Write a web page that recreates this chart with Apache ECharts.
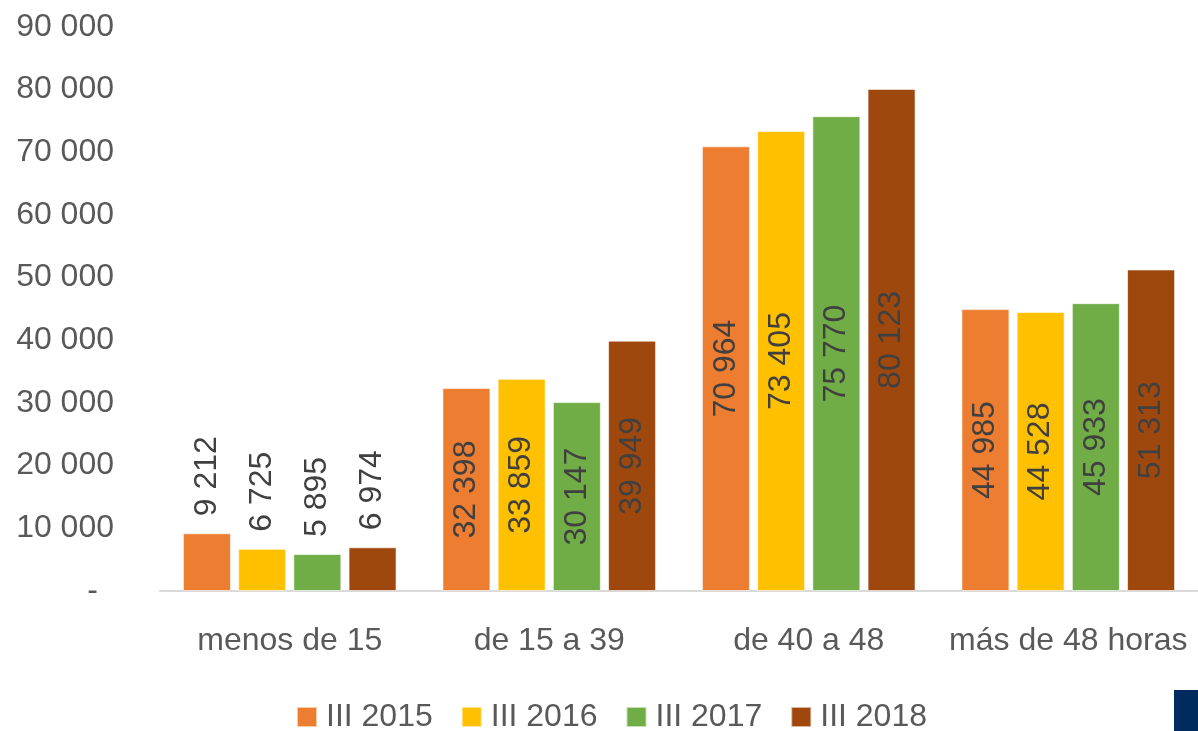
<!DOCTYPE html>
<html>
<head>
<meta charset="utf-8">
<script src="https://cdn.jsdelivr.net/npm/echarts@6/dist/echarts.min.js"></script>
<style>
html, body { margin: 0; padding: 0; background: #fff; }
#chart { width: 1198px; height: 731px; }
</style>
</head>
<body>
<div id="chart"></div>
<script>
// categorias y series
var categorias = ['menos de 15', 'de 15 a 39', 'de 40 a 48', 'más de 48 horas'];
var anios = ['III 2015', 'III 2016', 'III 2017', 'III 2018'];
var datos2015 = [9212, 32398, 70964, 44985];
var datos2016 = [6725, 33859, 73405, 44528];
var datos2017 = [5895, 30147, 75770, 45933];
var datos2018 = [6974, 39949, 80123, 51313];
var colores = ['#ED7D31', '#FFC000', '#70AD47', '#9E480E'];

var fuente = 'Liberation Sans';

function fmt(v) {
	return String(v).replace(/\B(?=(\d{3})+(?!\d))/g, ' ');
}

// la primera categoria lleva la etiqueta encima de la barra
function armarDatos(arr) {
	return arr.map(function(v, i) {
		if(i == 0) {
			return {
				value: v,
				label: { position: 'top', align: 'left', verticalAlign: 'middle', distance: 17 }
			};
		}
		return v;
	});
}

var listas = [datos2015, datos2016, datos2017, datos2018];
var series = [];
for(var i = 0; i < listas.length; i++) {
	series.push({
		name: anios[i],
		type: 'bar',
		barWidth: '18.5%',
		barGap: '15%',
		itemStyle: { color: colores[i], borderColor: 'rgba(255,255,255,0.6)', borderWidth: 1 },
		label: {
			show: true,
			position: 'inside',
			rotate: 90,
			color: '#404040',
			fontFamily: fuente,
			fontSize: 32,
			formatter: function(p) { return fmt(p.value); }
		},
		data: armarDatos(listas[i])
	});
}

var myChart = echarts.init(document.getElementById('chart'));
var option = {
	animation: false,
	grid: { left: 160, right: 0, top: 27, bottom: 140 },
	legend: {
		data: anios,
		top: 701,
		left: 296,
		padding: 0,
		itemWidth: 20,
		itemHeight: 20,
		itemGap: 28,
		icon: 'rect',
		textStyle: { color: '#595959', fontFamily: fuente, fontSize: 32, padding: [0, 0, 0, 4] }
	},
	xAxis: {
		type: 'category',
		data: categorias,
		axisLine: { lineStyle: { color: '#D9D9D9', width: 2 } },
		axisTick: { show: false },
		axisLabel: { color: '#595959', fontFamily: fuente, fontSize: 32, margin: 34, interval: 0 }
	},
	yAxis: {
		type: 'value',
		min: 0,
		max: 90000,
		interval: 10000,
		splitLine: { show: false },
		axisLine: { show: false },
		axisTick: { show: false },
		axisLabel: {
			color: '#595959',
			fontFamily: fuente,
			fontSize: 32,
			margin: 46,
			formatter: function(v) {
				if(v == 0) return '{d|-}';
				return fmt(v);
			},
			rich: { d: { color: '#595959', fontFamily: fuente, fontSize: 32, padding: [0, 16, 0, 0] } }
		}
	},
	graphic: [
		{ type: 'rect', right: 0, bottom: 0, shape: { width: 24, height: 41 }, style: { fill: '#002B5E' } }
	],
	series: series
};
myChart.setOption(option);
</script>
</body>
</html>
